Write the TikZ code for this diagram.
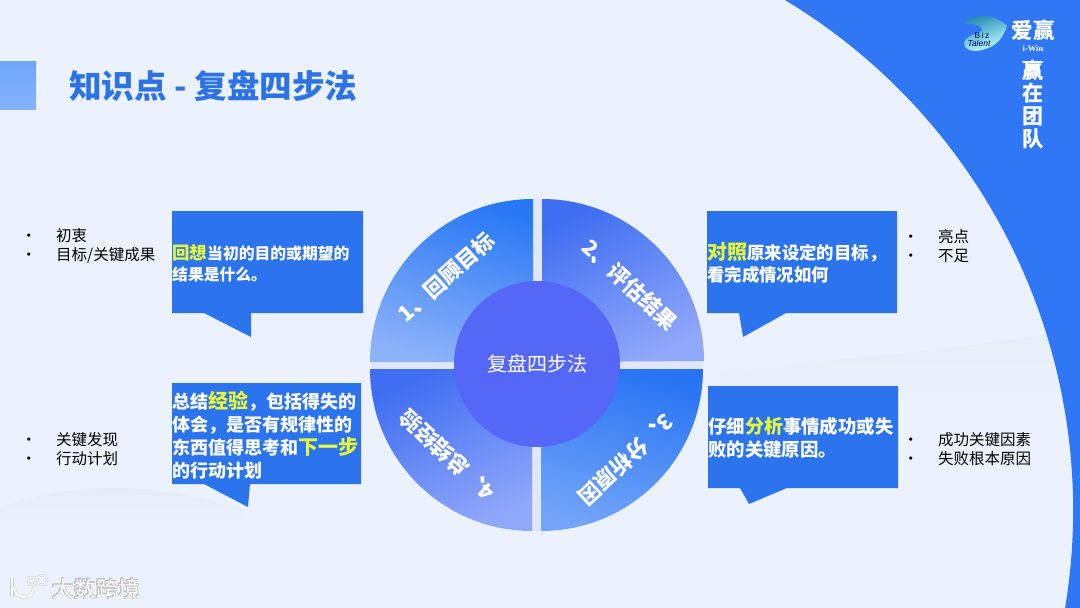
\documentclass[tikz,border=0pt]{standalone}
\usepackage{fontspec}
\usepackage{contour}
\setmainfont{Noto Sans CJK SC}
\newfontfamily\heavyfont[FakeBold=1.5,UprightFont=* Bold]{Noto Sans CJK SC}
\newfontfamily\latinfont{Liberation Sans}
\newfontfamily\serifwin{Liberation Serif}
\definecolor{pagebg}{HTML}{EBF2FD}
\definecolor{pageblue}{HTML}{2F77F4}
\definecolor{boxblue}{HTML}{2C73EE}
\definecolor{titleblue}{HTML}{2D73E5}
\definecolor{keyyellow}{HTML}{E6F83C}
\definecolor{hubblue}{HTML}{5467F7}
\definecolor{hillgray}{HTML}{E5EBF5}
\definecolor{squaretop}{HTML}{6EA6FA}
\definecolor{squarebottom}{HTML}{84B3FB}
\definecolor{sectoronetop}{HTML}{2878F5}
\definecolor{sectoronebottom}{HTML}{8CB2F9}
\definecolor{sectortwotop}{HTML}{3F6EF2}
\definecolor{sectortwobottom}{HTML}{90A8FA}
\definecolor{sectorthreetop}{HTML}{2874F4}
\definecolor{sectorthreebottom}{HTML}{72A5F9}
\newcommand{\keyword}[2]{{\fontsize{#1}{#1}\selectfont\color{keyyellow}#2}}
\newcommand{\bulletrow}[1]{\makebox[35pt][l]{\textbullet}#1}
\begin{document}
\begin{tikzpicture}[x=1pt, y=-1pt, line join=round]
  \useasboundingbox (0,0) rectangle (1080,608);

  % Estilos
  \tikzset{
    boxtext/.style={anchor=west, inner sep=0pt, align=left, text=white},
    bullettext/.style={anchor=west, inner sep=0pt, align=left, text=black, font=\fontsize{15.5}{19}\selectfont},
    sectortext/.style={inner sep=0pt, text=white, font=\bfseries\fontsize{21.5}{24}\selectfont},
    callout/.style={fill=boxblue},
    markline/.style={draw=black!22, double=white, double distance=2.2pt, line width=.5pt}
  }

  % Fondo y arco azul
  \fill[pagebg] (0,0) rectangle (1080,608);
  \shade[top color=hillgray, bottom color=pagebg] (0,508) .. controls (60,484) and (150,478) .. (245,510) -- (245,522) -- (0,522) -- cycle;
  \shade[top color=hillgray!60!pagebg, bottom color=pagebg] (720,372) .. controls (830,360) and (950,350) .. (1050,334) -- (1060,405) -- (720,405) -- cycle;
  \fill[pageblue] (785,0) arc[start angle=-58.9, end angle=9.5, radius=596] -- (1080,608) -- (1080,0) -- cycle;

  % Cabecera
  \shade[top color=squaretop, bottom color=squarebottom] (0,61) rectangle (36,109);
  \node[anchor=west, inner sep=0pt, text=titleblue, font=\bfseries\fontsize{32.6}{36}\selectfont] (title) at (69,86) {知识点 - 复盘四步法};

  % Logo
  \shade[top color=teal!60!pageblue, bottom color=cyan!25!white, shading angle=20]
    (963,23) .. controls (975,11) and (998,16) .. (1007,26)
    .. controls (1002,42) and (992,49) .. (976,51)
    .. controls (966,51) and (961,45) .. (966,39)
    .. controls (975,32) and (985,32) .. (982,28)
    .. controls (978,24) and (970,24) .. (963,23) -- cycle;
  \node[inner sep=0pt, text=blue!40!black, font=\latinfont\fontsize{8.5}{9}\selectfont] (logobiz) at (982,35) {B\,i\,z};
  \node[inner sep=0pt, text=blue!40!black, font=\latinfont\itshape\fontsize{8.5}{9}\selectfont] (logotalent) at (979,43) {Talent};
  \node[inner sep=0pt, text=white, font=\bfseries\fontsize{21.5}{24}\selectfont] (logoname) at (1033,30) {爱赢};
  \node[inner sep=0pt, text=white, font=\serifwin\bfseries\fontsize{8.5}{9}\selectfont] (logowin) at (1033,49) {i-Win};
  \node[inner sep=0pt, text=white, align=center, font=\heavyfont\fontsize{21}{22.8}\selectfont] (logoslogan) at (1032.5,104) {赢\\在\\团\\队};

  % Sectores
  \fill[blue!5!pagebg] (537,365) circle (166);
  \shade[top color=sectoronetop, bottom color=sectoronebottom, shading angle=-15] (533,362) -- (370,362) arc[start angle=180, end angle=270, radius=163] -- cycle;
  \shade[top color=sectortwotop, bottom color=sectortwobottom, shading angle=25] (542,362) -- (542,199) arc[start angle=270, end angle=360, radius=162] -- cycle;
  \shade[top color=sectorthreetop, bottom color=sectorthreebottom, shading angle=-15] (541,369) -- (703,369) arc[start angle=0, end angle=90, radius=162] -- cycle;
  \shade[top color=sectortwotop, bottom color=sectortwobottom, shading angle=25] (532,369) -- (532,531) arc[start angle=90, end angle=180, radius=162] -- cycle;
  \node[sectortext, rotate=42] (stepone) at (446,277) {1、回顾目标};
  \node[sectortext, rotate=-43] (steptwo) at (630,285) {2、评估结果};
  \node[sectortext, rotate=223] (stepthree) at (626,460) {3、分析原因};
  \node[sectortext, rotate=137] (stepfour) at (447,455) {4、总结经验};

  % Circulo central
  \node[circle, fill=hubblue, minimum size=166pt, inner sep=0pt, text=white, font=\fontsize{20}{24}\selectfont] (hub) at (537,364) {复盘四步法};

  % Cajas con cola
  \fill[callout] (172,211) -- (363,211) -- (363,313) -- (251,313) -- (251,337) -- (204,313) -- (172,313) -- cycle;
  \fill[callout] (172,383) -- (361,383) -- (361,484) -- (250,484) -- (248,507) -- (204,484) -- (172,484) -- cycle;
  \fill[callout] (707,211) -- (897,211) -- (897,313) -- (786,313) -- (743,337) -- (739,313) -- (707,313) -- cycle;
  \fill[callout] (708,386) -- (898,386) -- (898,488) -- (787,488) -- (749,504) -- (740,488) -- (708,488) -- cycle;

  % Textos de las cajas
  \node[boxtext, font=\bfseries\fontsize{15.8}{21}\selectfont] (recall) at (172,263.5) {\keyword{17.5}{回想}当初的目的或期望的\\结果是什么。};
  \node[boxtext, font=\bfseries\fontsize{18}{22.8}\selectfont] (summary) at (172,435) {总结\keyword{20}{经验}，包括得失的\\体会，是否有规律性的\\东西值得思考和\keyword{20}{下一步}\\的行动计划};
  \node[boxtext, font=\bfseries\fontsize{17.4}{22}\selectfont] (compare) at (707,263) {\keyword{20}{对照}原来设定的目标，\\看完成情况如何};
  \node[boxtext, font=\bfseries\fontsize{18.4}{22.7}\selectfont] (analyze) at (708,438) {仔细\keyword{19}{分析}事情成功或失\\败的关键原因。};

  % Listas
  \node[bullettext] (listone) at (21,246) {\bulletrow{初衷}\\\bulletrow{目标/关键成果}};
  \node[bullettext] (listtwo) at (903,246.5) {\bulletrow{亮点}\\\bulletrow{不足}};
  \node[bullettext] (listthree) at (903,449.5) {\bulletrow{成功关键因素}\\\bulletrow{失败根本原因}};
  \node[bullettext] (listfour) at (21,449) {\bulletrow{关键发现}\\\bulletrow{行动计划}};

  % Marca de agua
  \draw[markline] (12,578) -- (12,597);
  \draw[markline] (34,587) arc[start angle=0, end angle=180, radius=10];
  \draw[markline, double distance=1.2pt] (32,581) circle (4);
  \draw[markline, double distance=1.2pt] (42,580) circle (5);
  \node[anchor=west, inner sep=0pt, text=white, font=\fontsize{22}{24}\selectfont] (mark) at (52,589) {\contourlength{.7pt}\contour{black!25}{大数跨境}};
\end{tikzpicture}
\end{document}
